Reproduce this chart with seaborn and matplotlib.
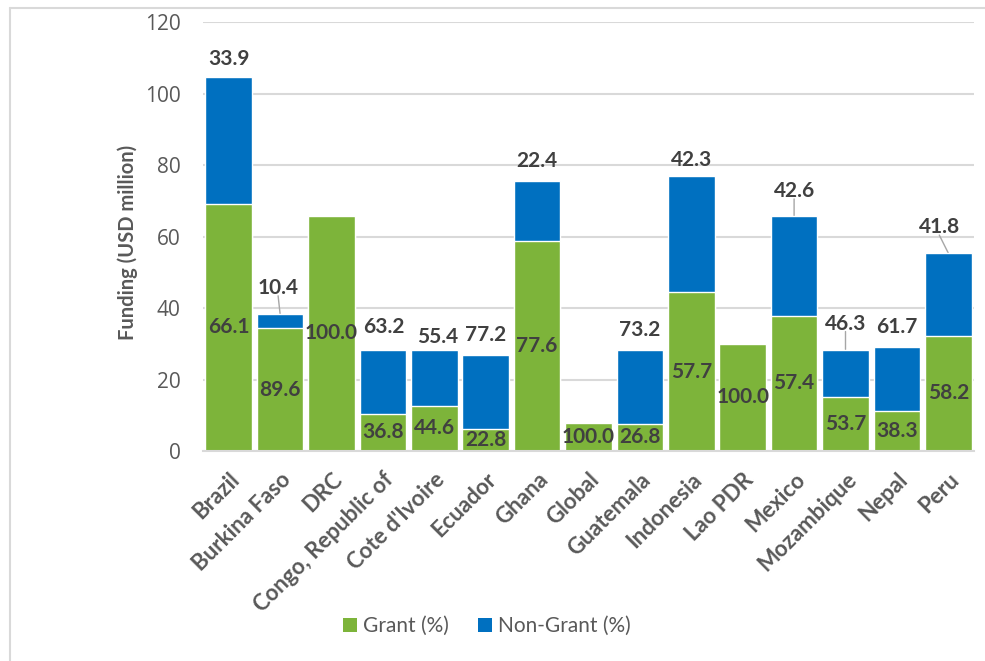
import matplotlib
matplotlib.use("Agg")
import matplotlib.pyplot as plt
import seaborn as sns
import pandas as pd
from matplotlib.patches import Patch
from matplotlib.lines import Line2D

countries = ["Brazil", "Burkina Faso", "DRC", "Congo, Republic of", "Cote d'Ivoire",
             "Ecuador", "Ghana", "Global", "Guatemala", "Indonesia", "Lao PDR",
             "Mexico", "Mozambique", "Nepal", "Peru"]
grant_usd = [69.2, 34.4, 65.8, 10.45, 12.67, 6.13, 58.7, 7.7, 7.6, 44.4, 30.0, 37.8, 15.25, 11.1, 32.2]
nongrant_usd = [35.5, 4.0, 0.0, 17.95, 15.73, 20.77, 17.0, 0.0, 20.8, 32.5, 0.0, 28.0, 13.15, 17.9, 23.2]
grant_pct = ["66.1", "89.6", "100.0", "36.8", "44.6", "22.8", "77.6", "100.0", "26.8",
             "57.7", "100.0", "57.4", "53.7", "38.3", "58.2"]
nongrant_pct = ["33.9", "10.4", "", "63.2", "55.4", "77.2", "22.4", "", "73.2",
                "42.3", "", "42.6", "46.3", "61.7", "41.8"]
yticks = [0, 20, 40, 60, 80, 100, 120]

# label offsets (pixels above bar top, horizontal shift) and leader flag
lab_dy = [12, 20, 0, 17, 7, 14, 13.6, 0, 14, 10.7, 0, 19, 20, 14.6, 20]
lab_dx = [0, -2, 0, 1, 3, 0, 0, 0, 0, 0, 0, 0, 0, 0, -9]
leader = [False, True, False, False, False, False, False, False, False, False, False, True, True, False, True]

GREEN = "#7DB43A"
BLUE = "#0070C0"
TXT = "#595959"
LAB = "#404040"
GRID = "#D9D9D9"

sns.set_theme(style="white")
plt.rcParams["font.family"] = ["Lato", "DejaVu Sans"]

df = pd.DataFrame({"country": countries, "grant": grant_usd, "nongrant": nongrant_usd})
df["total"] = df["grant"] + df["nongrant"]

DPI = 100
fig = plt.figure(figsize=(9.85, 6.61), dpi=DPI)
ax = fig.add_axes([203 / 985, 1 - 451 / 661, 771 / 985, 428.7 / 661])

sns.barplot(data=df, x="country", y="total", color=BLUE, saturation=1, width=0.91,
            ax=ax, zorder=2)
sns.barplot(data=df, x="country", y="grant", color=GREEN, saturation=1, width=0.91,
            ax=ax, zorder=3)

ax.set_xlim(-0.5, len(countries) - 0.5)
ax.set_ylim(0, 120)
ax.set_yticks(yticks)
ax.yaxis.grid(True, color=GRID, linewidth=1.5, zorder=0)
ax.set_axisbelow(True)
for s in ["top", "right", "left"]:
    ax.spines[s].set_visible(False)
ax.spines["bottom"].set_color(GRID)
ax.spines["bottom"].set_linewidth(1.5)
ax.spines["bottom"].set_zorder(4)
ax.tick_params(axis="y", length=0, pad=16, labelsize=15, labelcolor=TXT)
ax.tick_params(axis="x", length=0, pad=13, labelsize=16, labelcolor=TXT)
ax.set_xlabel("")
ax.set_ylabel("")
for lbl in ax.get_xticklabels():
    lbl.set_rotation(45)
    lbl.set_ha("right")
    lbl.set_rotation_mode("anchor")
    lbl.set_fontweight("bold")
for lbl in ax.get_yticklabels():
    lbl.set_fontfamily(["Open Sans", "DejaVu Sans"])

fig.text(128 / 985, 1 - 242 / 661, "Funding (USD million)", rotation=90, ha="center",
         va="center", fontsize=14.5, fontweight="bold", color=TXT)

px2pt = 72 / DPI
for i, row in df.iterrows():
    ax.text(i, row["grant"] / 2, grant_pct[i], ha="center", va="center",
            fontsize=15, fontweight="bold", color=LAB, zorder=5)
    if nongrant_pct[i]:
        ax.annotate(nongrant_pct[i], xy=(i, row["total"]),
                    xytext=(lab_dx[i] * px2pt, lab_dy[i] * px2pt), textcoords="offset points",
                    ha="center", va="baseline", fontsize=15, fontweight="bold",
                    color=LAB, zorder=5)
        if leader[i]:
            ax.annotate("", xy=(i, row["total"]), xytext=(lab_dx[i] * px2pt, (lab_dy[i] - 2) * px2pt),
                        textcoords="offset points",
                        arrowprops=dict(arrowstyle="-", color="#A6A6A6", lw=1,
                                        shrinkA=0, shrinkB=0), zorder=1)

handles = [Patch(facecolor=GREEN, edgecolor="none", label="Grant (%)"),
           Patch(facecolor=BLUE, edgecolor="none", label="Non-Grant (%)")]
fig.legend(handles=handles, loc="center", bbox_to_anchor=(487 / 985, 1 - 626 / 661),
           ncol=2, frameon=False, fontsize=15, labelcolor=TXT, handlelength=0.65,
           handleheight=0.65, handletextpad=0.3, columnspacing=1.4)

# chart-area frame (top and left)
fig.add_artist(Line2D([9.5 / 985, 1.0], [1 - 7.5 / 661, 1 - 7.5 / 661],
                      transform=fig.transFigure, color=GRID, lw=1.5))
fig.add_artist(Line2D([9.5 / 985, 9.5 / 985], [0, 1 - 7.5 / 661],
                      transform=fig.transFigure, color=GRID, lw=1.5))

fig.savefig("out.png", dpi=DPI)
